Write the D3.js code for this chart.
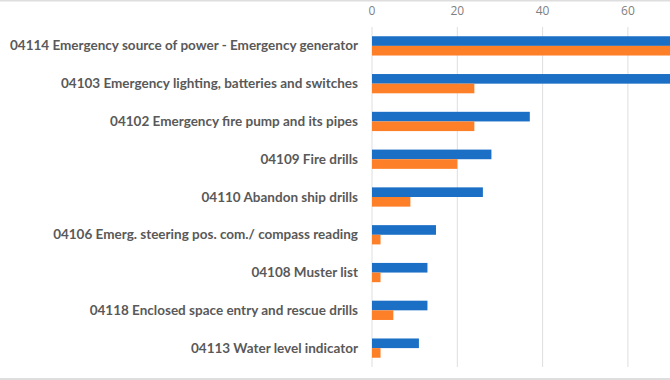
<!DOCTYPE html>
<html>
<head>
<meta charset="utf-8">
<script src="https://cdn.jsdelivr.net/npm/d3@7"></script>
<style>
    body { margin: 0; background: #fff; }
    svg { display: block; }
    .tick-label { font-family: "Open Sans", sans-serif; font-size: 12px; fill: #7f7f7f; }
    .cat-label { font-family: Lato, sans-serif; font-size: 13.5px; font-weight: bold; fill: #595959; }
</style>
</head>
<body>
<svg id="chart"></svg>
<script>
// Categories, top to bottom
const categories = [
    "04114 Emergency source of power - Emergency generator",
    "04103 Emergency lighting, batteries and switches",
    "04102 Emergency fire pump and its pipes",
    "04109 Fire drills",
    "04110 Abandon ship drills",
    "04106 Emerg. steering pos. com./ compass reading",
    "04108 Muster list",
    "04118 Enclosed space entry and rescue drills",
    "04113 Water level indicator"
];
// first two rows run off the right edge, so those are guesses
const blueValues = [85, 72, 37, 28, 26, 15, 13, 13, 11];
const orangeValues = [80, 24, 24, 20, 9, 2, 2, 5, 2];
const tickValues = [0, 20, 40, 60];

const width = 670, height = 380;
const margin = { top: 27, right: 0, bottom: 13, left: 372 };

const svg = d3.select("#chart").attr("width", width).attr("height", height);

// x: 20 units ~ 85px
const x = d3.scaleLinear()
    .domain([0, 70])
    .range([margin.left, margin.left + 70 * 4.265]);

const y = d3.scaleBand()
    .domain(categories)
    .range([margin.top, height - margin.bottom])
    .paddingInner(0.49)
    .paddingOuter(0.245);

const sub = d3.scaleBand()
    .domain(["blue", "orange"])
    .range([0, y.bandwidth()]);

// frame lines top and bottom
svg.append("line")
    .attr("x1", 0).attr("x2", width)
    .attr("y1", 0.5).attr("y2", 0.5)
    .attr("stroke", "#dedede").attr("stroke-width", 2);
svg.append("line")
    .attr("x1", 0).attr("x2", width)
    .attr("y1", height - 1).attr("y2", height - 1)
    .attr("stroke", "#dedede").attr("stroke-width", 2);

// gridlines
svg.selectAll(".grid")
    .data(tickValues)
    .enter()
    .append("line")
    .attr("class", "grid")
    .attr("x1", d => x(d)).attr("x2", d => x(d))
    .attr("y1", margin.top).attr("y2", height - margin.bottom)
    .attr("stroke", "#dedede")
    .attr("stroke-width", 1);

// tick labels on top
svg.selectAll(".tick-label")
    .data(tickValues)
    .enter()
    .append("text")
    .attr("class", "tick-label")
    .attr("x", d => x(d))
    .attr("y", 15)
    .attr("text-anchor", "middle")
    .text(d => d);

// bars
const rows = svg.selectAll(".row")
    .data(categories)
    .enter()
    .append("g")
    .attr("class", "row")
    .attr("transform", d => `translate(0, ${y(d)})`);

rows.append("rect")
    .attr("x", x(0))
    .attr("y", sub("blue"))
    .attr("width", (d, i) => x(blueValues[i]) - x(0))
    .attr("height", sub.bandwidth())
    .attr("fill", "#1b6fc4");

rows.append("rect")
    .attr("x", x(0))
    .attr("y", sub("orange"))
    .attr("width", (d, i) => x(orangeValues[i]) - x(0))
    .attr("height", sub.bandwidth())
    .attr("fill", "#fd7f28");

// category labels
svg.selectAll(".cat-label")
    .data(categories)
    .enter()
    .append("text")
    .attr("class", "cat-label")
    .attr("x", 358)
    .attr("y", d => y(d) + y.bandwidth() / 2 + 4.5)
    .attr("text-anchor", "end")
    .text(d => d);
</script>
</body>
</html>
